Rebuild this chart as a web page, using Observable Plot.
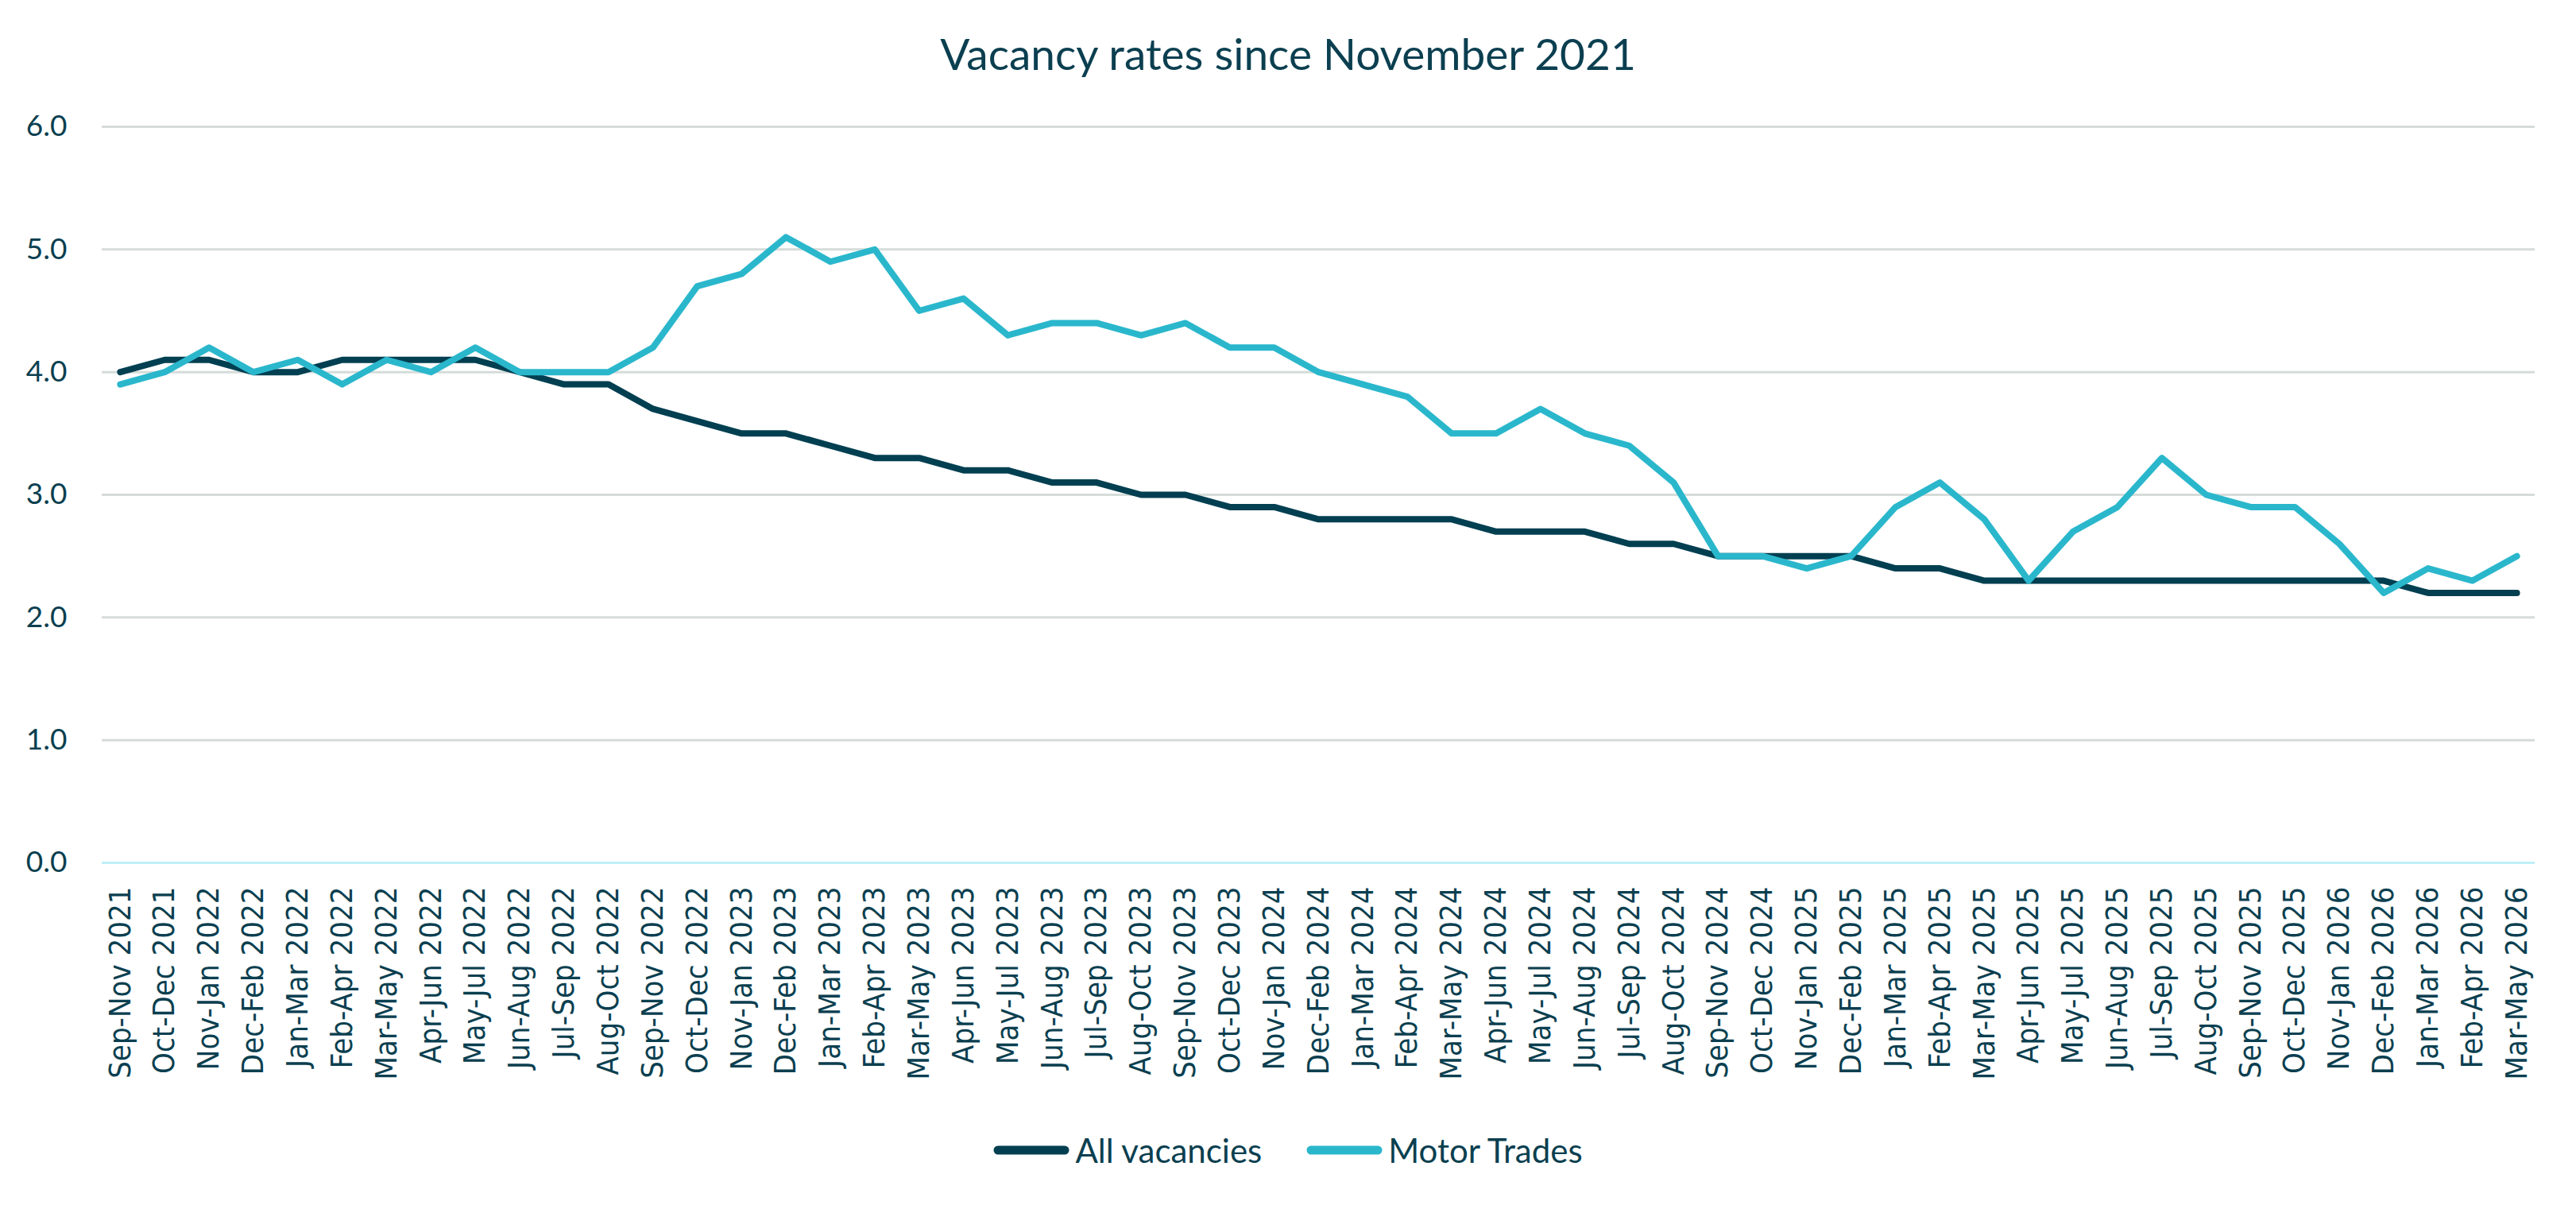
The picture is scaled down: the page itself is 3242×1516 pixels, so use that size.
<!DOCTYPE html>
<html>
<head>
<meta charset="utf-8">
<script src="https://cdn.jsdelivr.net/npm/d3@7"></script>
<script src="https://cdn.jsdelivr.net/npm/@observablehq/plot@0.6"></script>
<style>
  html, body { margin: 0; padding: 0; background: #ffffff; }
  #wrap { position: relative; width: 3242px; height: 1516px; overflow: hidden; background: #fff; }
  #title { position: absolute; left: 0; top: 41px; width: 3242px; text-align: center;
           font-family: Lato, "Open Sans", sans-serif; font-size: 55px; line-height: 52px; color: #0b3f50; }
  #chart { position: absolute; left: 0; top: 120px; }
  #legend { position: absolute; left: 0; top: 1397px; width: 3242px; height: 100px;
            display: flex; justify-content: center; align-items: center;
            font-family: Lato, "Open Sans", sans-serif; font-size: 42px; color: #0b3f50; }
  .item { display: flex; align-items: center; }
  .item + .item { margin-left: 56px; }
  .item svg { margin-right: 7px; }
</style>
</head>
<body>
<div id="wrap">
  <div id="title">Vacancy rates since November 2021</div>
  <div id="chart"></div>
  <div id="legend"></div>
</div>
<script>
const categories = [
  "Sep-Nov 2021","Oct-Dec 2021","Nov-Jan 2022","Dec-Feb 2022","Jan-Mar 2022","Feb-Apr 2022",
  "Mar-May 2022","Apr-Jun 2022","May-Jul 2022","Jun-Aug 2022","Jul-Sep 2022","Aug-Oct 2022",
  "Sep-Nov 2022","Oct-Dec 2022","Nov-Jan 2023","Dec-Feb 2023","Jan-Mar 2023","Feb-Apr 2023",
  "Mar-May 2023","Apr-Jun 2023","May-Jul 2023","Jun-Aug 2023","Jul-Sep 2023","Aug-Oct 2023",
  "Sep-Nov 2023","Oct-Dec 2023","Nov-Jan 2024","Dec-Feb 2024","Jan-Mar 2024","Feb-Apr 2024",
  "Mar-May 2024","Apr-Jun 2024","May-Jul 2024","Jun-Aug 2024","Jul-Sep 2024","Aug-Oct 2024",
  "Sep-Nov 2024","Oct-Dec 2024","Nov-Jan 2025","Dec-Feb 2025","Jan-Mar 2025","Feb-Apr 2025",
  "Mar-May 2025","Apr-Jun 2025","May-Jul 2025","Jun-Aug 2025","Jul-Sep 2025","Aug-Oct 2025",
  "Sep-Nov 2025","Oct-Dec 2025","Nov-Jan 2026","Dec-Feb 2026","Jan-Mar 2026","Feb-Apr 2026",
  "Mar-May 2026"
];
const allVacancies = [
  4.0,4.1,4.1,4.0,4.0,4.1,4.1,4.1,4.1,4.0,3.9,3.9,
  3.7,3.6,3.5,3.5,3.4,3.3,3.3,3.2,3.2,3.1,3.1,3.0,
  3.0,2.9,2.9,2.8,2.8,2.8,2.8,2.7,2.7,2.7,2.6,2.6,
  2.5,2.5,2.5,2.5,2.4,2.4,2.3,2.3,2.3,2.3,2.3,2.3,
  2.3,2.3,2.3,2.3,2.2,2.2,2.2
];
const motorTrades = [
  3.9,4.0,4.2,4.0,4.1,3.9,4.1,4.0,4.2,4.0,4.0,4.0,
  4.2,4.7,4.8,5.1,4.9,5.0,4.5,4.6,4.3,4.4,4.4,4.3,
  4.4,4.2,4.2,4.0,3.9,3.8,3.5,3.5,3.7,3.5,3.4,3.1,
  2.5,2.5,2.4,2.5,2.9,3.1,2.8,2.3,2.7,2.9,3.3,3.0,
  2.9,2.9,2.6,2.2,2.4,2.3,2.5
];
const seriesNames = ["All vacancies", "Motor Trades"];
const seriesColors = ["#013f51", "#2ab7cc"];
const yTicks = [0, 1, 2, 3, 4, 5, 6];

const textColor = "#0b3f50";
const data = [
  ...categories.map((c, i) => ({cat: c, value: allVacancies[i], series: seriesNames[0]})),
  ...categories.map((c, i) => ({cat: c, value: motorTrades[i], series: seriesNames[1]}))
];

const chart = Plot.plot({
  width: 3242,
  height: 1280,
  marginTop: 39,
  marginBottom: 315,
  marginLeft: 128,
  marginRight: 52,
  style: {color: textColor, background: "transparent", overflow: "visible"},
  x: {type: "point", domain: categories, padding: 0.41, label: null},
  y: {domain: [0, 6], label: null},
  color: {domain: seriesNames, range: seriesColors},
  marks: [
    Plot.ruleY(yTicks.filter(d => d > 0), {stroke: "#d5dcda", strokeWidth: 3}),
    Plot.ruleY([0], {stroke: "#bff0f8", strokeWidth: 3}),
    Plot.axisY({ticks: yTicks, tickSize: 0, tickPadding: 44, tickFormat: d => d.toFixed(1),
                fontSize: 37, fontFamily: "Lato, 'Open Sans', sans-serif", fill: textColor, label: null}),
    Plot.axisX({tickSize: 0, tickPadding: 30, tickRotate: -90,
                fontSize: 38, fontFamily: "'DejaVu Sans Condensed', 'DejaVu Sans', sans-serif",
                fill: textColor, label: null}),
    Plot.line(data, {x: "cat", y: "value", z: "series", stroke: "series", strokeWidth: 8,
                     strokeLinejoin: "round", strokeLinecap: "round"})
  ]
});
document.getElementById("chart").appendChild(chart);

const legend = document.getElementById("legend");
seriesNames.forEach((name, i) => {
  const item = document.createElement("div");
  item.className = "item";
  item.innerHTML = `<svg width="96" height="20"><line x1="6" y1="10" x2="90" y2="10" stroke="${seriesColors[i]}" stroke-width="11" stroke-linecap="round"/></svg><span>${name}</span>`;
  legend.appendChild(item);
});
</script>
</body>
</html>
